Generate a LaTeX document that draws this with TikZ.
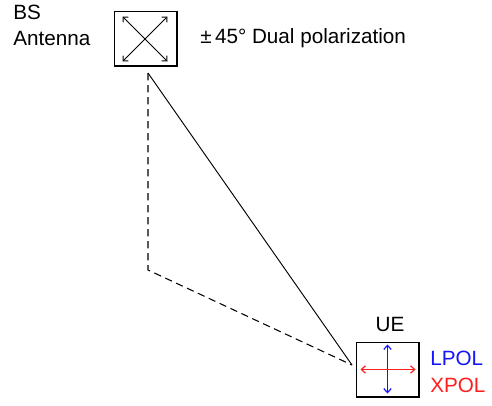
\documentclass[tikz,border=0pt]{standalone}
\usepackage{fontspec}
\setmainfont{Liberation Sans}
\usepackage{xcolor}
\usetikzlibrary{arrows.meta,positioning,calc}
\definecolor{lpolblue}{RGB}{20,20,255}
\definecolor{xpolred}{RGB}{255,30,30}

\begin{document}
\begin{tikzpicture}[x=0.75pt,y=-0.75pt,font=\fontsize{15.5}{19.5}\selectfont,
    antbox/.style={draw, line width=1pt, minimum width=47pt, minimum height=41pt, inner sep=0pt},
    polarrow/.style={{Straight Barb[length=3pt,width=5.5pt]}-{Straight Barb[length=3pt,width=5.5pt]}, line width=0.7pt},
    ray/.style={line width=0.7pt},
    lbl/.style={anchor=base west, inner sep=0pt}]
    \useasboundingbox (0,0) rectangle (492,405);

    % antennas
    \node[antbox] (bs) at (145.5,38.5) {};
    \node[antbox] (ue) at (387.5,369.5) {};
    \draw[polarrow] ($(bs.center)+(-23,-22)$) -- ($(bs.center)+(22,23)$);
    \draw[polarrow] ($(bs.center)+(22,-22)$) -- ($(bs.center)+(-23,23)$);
    \draw[polarrow, line width=0.9pt, lpolblue] ($(ue.center)+(0,-25)$) -- ($(ue.center)+(0,24)$);
    \draw[polarrow, line width=0.9pt, xpolred] ($(ue.center)+(-27,0)$) -- ($(ue.center)+(28,0)$);

    % paths
    \coordinate (src) at (148,73);
    \coordinate (bend) at (148,270);
    \coordinate (dst) at (352,365);
    \draw[ray] (src) -- (dst);
    \draw[ray, line width=0.8pt, dash pattern=on 5.5pt off 3.5pt] (src) -- (bend) -- (dst);

    % labels
    \node[lbl, align=left] (bsname) at (13,45) {BS\\Antenna};
    \node[lbl] (polname) at (200,43) {±\,45° Dual polarization};
    \node[anchor=base, inner sep=0pt] (uename) at (390,331) {UE};
    \node[lbl, text=lpolblue] (lpol) at (430,365) {LPOL};
    \node[lbl, text=xpolred] (xpol) at (430,392) {XPOL};
\end{tikzpicture}
\end{document}
